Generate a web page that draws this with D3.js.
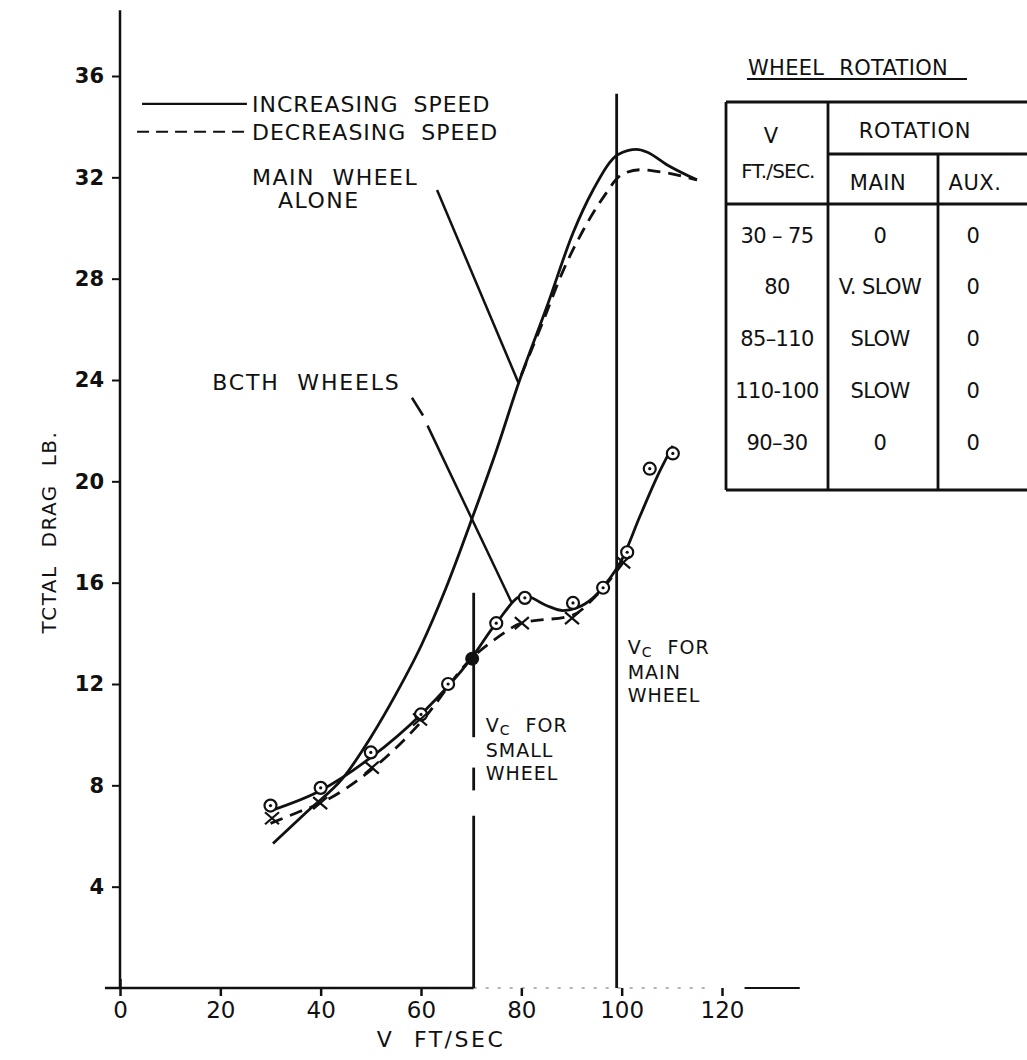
<!DOCTYPE html>
<html>
<head>
<meta charset="utf-8">
<script src="https://cdn.jsdelivr.net/npm/d3@7"></script>
<style>
  body { margin: 0; background: #fff; }
  text { font-family: "DejaVu Sans", sans-serif; fill: #111; }
</style>
</head>
<body>
<svg id="chart" width="1027" height="1060"></svg>
<script>
// ---- data ----
const xTicks = [0, 20, 40, 60, 80, 100, 120];
const yTicks = [4, 8, 12, 16, 20, 24, 28, 32, 36];

// main wheel alone
const mainInc = [[30.5,5.7],[37.5,7.0],[44.5,8.3],[50,9.9],[55,11.6],[60,13.5],[65,15.8],[70.3,18.6],
  [75,21.2],[79.5,23.9],[85.1,26.9],[90.3,29.8],[94.3,31.5],[99.3,32.9],[103,33.1],[105,33.0],[109,32.5],[115,31.9]];
const mainDec = [[80,24.2],[84.3,26.3],[88.3,28.3],[92.3,29.9],[96.3,31.2],[100,32.1],[103.6,32.3],
  [108.2,32.2],[113,32.0],[115,31.9]];

// both wheels
const bothInc = [[30,7.0],[40,7.8],[50,9.1],[60,10.8],[70,13.0],[75,14.4],[80.5,15.5],[85,15.1],
  [88.3,14.9],[91,15.0],[94.3,15.4],[97,16.0],[100,16.9],[103.6,18.6],[107.6,20.4],[110.2,21.4]];
const bothDec = [[30,6.5],[35,6.9],[40,7.3],[50,8.6],[60,10.5],[70,13.0],[75,13.8],[80,14.4],
  [90,14.7],[95,15.5],[100.3,16.8]];

const circlePts = [[30,7.2],[40,7.9],[50,9.3],[60,10.8],[65.4,12.0],[75,14.4],[80.7,15.4],
  [90.3,15.2],[96.3,15.8],[101.1,17.2],[105.6,20.5],[110.2,21.1]];
const crossPts = [[30.3,6.7],[39.9,7.3],[50.2,8.7],[59.8,10.6],[80.1,14.4],[90.1,14.6],[100.3,16.8]];
const filledPts = [[70.2,13.0]];

// critical speeds
const vcSmall = 70.5, vcMain = 99;

// table
const tableRanges = ["30 – 75", "80", "85–110", "110-100", "90–30"];
const tableMain = ["0", "V. SLOW", "SLOW", "SLOW", "0"];
const tableAux = ["0", "0", "0", "0", "0"];

const svg = d3.select("#chart");

const x = d3.scaleLinear().domain([0, 120]).range([120, 722]);
const y = d3.scaleLinear().domain([0, 36]).range([988, 76]);

// y axis
const yAxis = svg.append("g")
  .attr("transform", "translate(" + x(0) + ",0)")
  .call(d3.axisLeft(y).tickValues(yTicks).tickSize(8).tickPadding(8));
yAxis.select(".domain").remove();
yAxis.selectAll("line").attr("stroke", "#111").attr("stroke-width", 2);
yAxis.selectAll("text").style("font-size", "21px").style("font-weight", "bold")
  .style("font-family", "'DejaVu Sans', sans-serif").attr("fill", "#111");
svg.append("line").attr("x1", x(0)).attr("x2", x(0)).attr("y1", y(38.6)).attr("y2", y(0))
  .attr("stroke", "#111").attr("stroke-width", 2.5);

// x axis
const xAxis = svg.append("g")
  .attr("transform", "translate(0," + y(0) + ")")
  .call(d3.axisBottom(x).tickValues(xTicks).tickSize(8).tickPadding(6));
xAxis.select(".domain").remove();
xAxis.selectAll("line").attr("stroke", "#111").attr("stroke-width", 2.5);
xAxis.selectAll(".tick").filter(d => d === 0).select("line").attr("y1", -9);
xAxis.selectAll("text").style("font-size", "23px")
  .style("font-family", "'DejaVu Sans', sans-serif").attr("fill", "#111");
svg.append("line").attr("x1", x(-3)).attr("x2", x(vcSmall)).attr("y1", y(0)).attr("y2", y(0))
  .attr("stroke", "#111").attr("stroke-width", 2.5);
svg.append("line").attr("x1", x(vcSmall)).attr("x2", x(118)).attr("y1", y(0)).attr("y2", y(0))
  .attr("stroke", "#666").attr("stroke-width", 1).attr("stroke-dasharray", "3,9");
svg.append("line").attr("x1", x(124.5)).attr("x2", x(135.5)).attr("y1", y(0)).attr("y2", y(0))
  .attr("stroke", "#111").attr("stroke-width", 2);

// axis titles
svg.append("text").attr("x", x(64)).attr("y", 1047).attr("text-anchor", "middle")
  .style("font-size", "22px").style("letter-spacing", "2.5px").style("word-spacing", "10px")
  .text("V FT/SEC");
svg.append("text").attr("transform", "translate(56," + y(18) + ") rotate(-90)")
  .attr("text-anchor", "middle").style("font-size", "20px").style("letter-spacing", "1.5px")
  .style("word-spacing", "10px").text("TCTAL DRAG LB.");

// curves
const line = d3.line().x(d => x(d[0])).y(d => y(d[1])).curve(d3.curveMonotoneX);
function curve(data, dashed) {
  svg.append("path").attr("d", line(data)).attr("fill", "none")
    .attr("stroke", "#111").attr("stroke-width", 2.8)
    .attr("stroke-dasharray", dashed ? "13,8" : null);
}
curve(mainInc, false);
curve(mainDec, true);
curve(bothInc, false);
curve(bothDec, true);

// markers
svg.selectAll(".circ").data(circlePts).enter().append("g").attr("class", "circ")
  .attr("transform", d => "translate(" + x(d[0]) + "," + y(d[1]) + ")")
  .each(function() {
    const g = d3.select(this);
    g.append("circle").attr("r", 6).attr("fill", "#fff").attr("stroke", "#111").attr("stroke-width", 2.2);
    g.append("circle").attr("r", 1.6).attr("fill", "#111");
  });
svg.selectAll(".cross").data(crossPts).enter().append("path").attr("class", "cross")
  .attr("transform", d => "translate(" + x(d[0]) + "," + y(d[1]) + ")")
  .attr("d", "M-7,-6L7,6M-7,6L7,-6").attr("stroke", "#111").attr("stroke-width", 2.2);
svg.selectAll(".filled").data(filledPts).enter().append("circle").attr("class", "filled")
  .attr("cx", d => x(d[0])).attr("cy", d => y(d[1])).attr("r", 7).attr("fill", "#111");

// critical speed lines
const vSeg = [[0, 6.8], [7.8, 8.7], [9.9, 15.6]];
vSeg.forEach(s => {
  svg.append("line").attr("x1", x(vcSmall)).attr("x2", x(vcSmall)).attr("y1", y(s[0])).attr("y2", y(s[1]))
    .attr("stroke", "#111").attr("stroke-width", 2.8);
});
svg.append("line").attr("x1", x(vcMain)).attr("x2", x(vcMain)).attr("y1", y(0)).attr("y2", y(35.3))
  .attr("stroke", "#111").attr("stroke-width", 2.8);

// leader lines
const leaders = [
  [[63.2,31.5],[79.4,23.9]],
  [[58.2,23.3],[60.4,22.6]],
  [[61.3,22.2],[78.1,15.2]]
];
leaders.forEach(l => {
  svg.append("line").attr("x1", x(l[0][0])).attr("y1", y(l[0][1]))
    .attr("x2", x(l[1][0])).attr("y2", y(l[1][1])).attr("stroke", "#111").attr("stroke-width", 2.5);
});

// legend
const legendItems = [
  {label: "INCREASING SPEED", dash: null, d: 34.9},
  {label: "DECREASING SPEED", dash: "12,7", d: 33.8}
];
legendItems.forEach(it => {
  svg.append("line").attr("x1", x(it.dash ? 3.4 : 4.4)).attr("x2", x(25.3))
    .attr("y1", y(it.d)).attr("y2", y(it.d)).attr("stroke", "#111").attr("stroke-width", 2.2)
    .attr("stroke-dasharray", it.dash);
  svg.append("text").attr("x", x(26.3)).attr("y", y(it.d)).attr("dy", "0.36em")
    .style("font-size", "22px").style("letter-spacing", "1px").style("word-spacing", "7px")
    .text(it.label);
});

// annotations
function label(text, v, d, spacing) {
  svg.append("text").attr("x", x(v)).attr("y", y(d))
    .style("font-size", "22px").style("letter-spacing", spacing + "px").style("word-spacing", "9px")
    .text(text);
}
label("MAIN WHEEL", 26.3, 31.7, 1.5);
label("ALONE", 31.5, 30.8, 1.5);
label("BCTH WHEELS", 18.4, 23.6, 1.8);

// "Vc FOR ..." notes, one text per line
function vcLabel(v, d, extra) {
  const t = svg.append("text").attr("x", x(v)).attr("y", y(d))
    .style("font-size", "19px").style("letter-spacing", "1px").style("word-spacing", "8px");
  t.append("tspan").text("V");
  t.append("tspan").attr("dy", "3").style("font-size", "14px").text("C");
  t.append("tspan").attr("dy", "-3").text(" FOR");
  extra.forEach((ln, i) => {
    svg.append("text").attr("x", x(v)).attr("y", y(d) + 25 + i * 23)
      .style("font-size", "19px").style("letter-spacing", "1px").text(ln);
  });
}
vcLabel(72.9, 10.1, ["SMALL", "WHEEL"]);
vcLabel(101.2, 13.2, ["MAIN", "WHEEL"]);

// table
const tbl = svg.append("g");
const tL = 726, tR = 1040, tT = 102, tB = 490, c1 = 828, c2 = 938, hMid = 154, hBot = 204;
const tLines = [
  [tL, tT, tR, tT], [tL, tB, tR, tB], [tL, tT, tL, tB], [c1, tT, c1, tB], [c2, hMid, c2, tB],
  [c1, hMid, tR, hMid], [tL, hBot, tR, hBot]
];
tLines.forEach(l => {
  tbl.append("line").attr("x1", l[0]).attr("y1", l[1]).attr("x2", l[2]).attr("y2", l[3])
    .attr("stroke", "#111").attr("stroke-width", 2.8);
});
tbl.append("text").attr("x", 748).attr("y", 75).style("font-size", "21px")
  .style("letter-spacing", "0.3px").style("word-spacing", "8px").text("WHEEL ROTATION");
tbl.append("line").attr("x1", 747).attr("x2", 967).attr("y1", 79).attr("y2", 79)
  .attr("stroke", "#111").attr("stroke-width", 2);
const hdr = [
  {t: "V", x: 771, y: 143},
  {t: "FT./SEC.", x: 778, y: 178, s: 20, ls: -0.8},
  {t: "ROTATION", x: 915, y: 138, ls: 0.8},
  {t: "MAIN", x: 878, y: 190, ls: 0.5},
  {t: "AUX.", x: 975, y: 190, ls: 0.5}
];
hdr.forEach(h => {
  tbl.append("text").attr("x", h.x).attr("y", h.y).attr("text-anchor", "middle")
    .style("font-size", (h.s || 21) + "px").style("letter-spacing", (h.ls || 0) + "px").text(h.t);
});
const rowY = d3.scalePoint().domain(d3.range(tableRanges.length)).range([235, 442]);
const cols = [{vals: tableRanges, x: 777}, {vals: tableMain, x: 880}, {vals: tableAux, x: 973}];
cols.forEach(c => {
  tbl.selectAll(null).data(c.vals).enter().append("text")
    .attr("x", c.x).attr("y", (d, i) => rowY(i)).attr("dy", "0.36em").attr("text-anchor", "middle")
    .style("font-size", "21px").style("letter-spacing", "-0.6px").text(d => d);
});
</script>
</body>
</html>
